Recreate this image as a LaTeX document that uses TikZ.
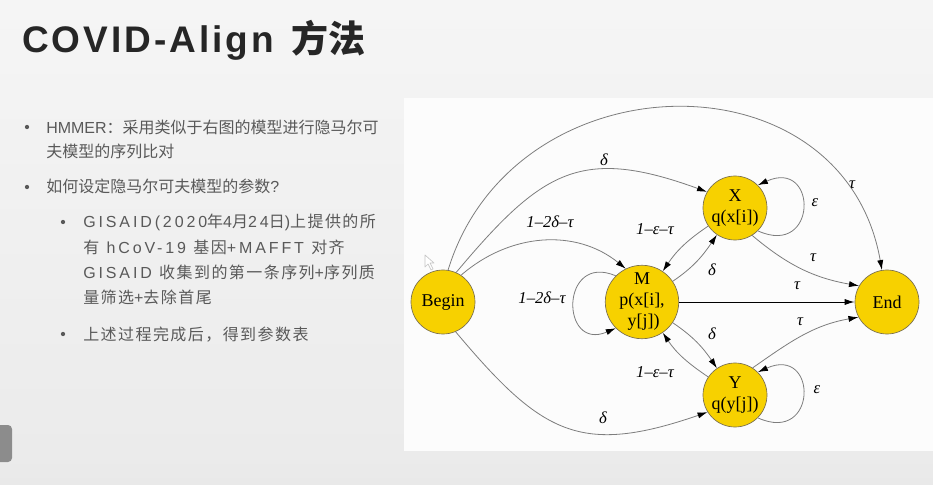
\documentclass[tikz,border=0pt]{standalone}
\usepackage{fontspec}
\setmainfont{Liberation Serif}
\newfontfamily\cjk{Noto Sans CJK SC}
\newfontfamily\cjkwide[LetterSpace=9]{Noto Sans CJK SC}
\newfontfamily\latplain{Liberation Sans}
\newfontfamily\latwide[LetterSpace=18]{Liberation Sans}
\newfontfamily\titlefont[LetterSpace=8]{Liberation Sans}
\newcommand{\lat}[1]{{\latplain #1}}
\newcommand{\latw}[1]{{\latwide #1}}
\usetikzlibrary{arrows.meta}

\definecolor{statefill}{RGB}{247,209,0}
\definecolor{stateline}{RGB}{120,110,80}
\definecolor{edgegray}{RGB}{125,125,125}
\definecolor{bodytext}{RGB}{89,89,89}
\definecolor{titletext}{RGB}{38,38,38}
\definecolor{bgT}{RGB}{255,255,255}
\definecolor{bgA}{RGB}{251,251,251}
\definecolor{bgB}{RGB}{246,246,246}
\definecolor{bgC}{RGB}{235,235,235}
\definecolor{bgD}{RGB}{221,221,221}
\definecolor{bgE}{RGB}{218,218,218}

% slide background, bottom (0bp) to top (100bp)
\pgfdeclareverticalshading{slidebg}{100bp}{%
  color(0bp)=(bgE); color(7bp)=(bgD); color(28bp)=(bgC);
  color(79bp)=(bgB); color(86bp)=(bgA); color(100bp)=(bgT)}

\tikzset{
  state/.style={circle, fill=statefill, draw=stateline, line width=0.5pt,
    minimum size=48pt, inner sep=0pt, align=center,
    font=\fontsize{13.5}{15.75}\selectfont},
  trans/.style={draw=edgegray, line width=0.6pt,
    -{Latex[length=7.5pt,width=4.6pt,color=black]}},
  lbl/.style={inner sep=0pt, font=\fontsize{12.5}{14}\selectfont\itshape},
  lineA/.style={anchor=base west, inner sep=0pt, text=bodytext,
    font=\cjk\fontsize{12}{14}\selectfont},
  lineB/.style={anchor=base west, inner sep=0pt, text=bodytext,
    font=\cjkwide\fontsize{12}{14}\selectfont},
  dot/.style={circle, fill=bodytext, inner sep=0pt, minimum size=3.2pt}
}

\begin{document}
\begin{tikzpicture}[x=0.75pt,y=0.75pt]
\useasboundingbox (0,0) rectangle (933,-485);

% background and panels
\shade[shading=slidebg] (0,0) rectangle (933,-485);
\fill[white!99!black] (404,-98) rectangle (933,-451);
\fill[gray!90, rounded corners=3pt] (-6,-425) rectangle (12,-462);
\draw[gray!45, line width=0.5pt, line join=round, fill=white]
  (425,-255) -- (425,-267) -- (428,-264) -- (431,-270) -- (433,-269)
  -- (430,-263) -- (434,-263) -- cycle;

% title
\node[anchor=base west, inner sep=0pt, text=titletext] (title) at (22,-53)
  {\titlefont\bfseries\fontsize{27.75}{30}\selectfont COVID-Align\hspace{13pt}{\cjk\bfseries 方法}};

% bullet list
\node[dot] (b1) at (27,-127) {};
\node[lineA] (t1a) at (46,-133) {\lat{HMMER}：采用类似于右图的模型进行隐马尔可};
\node[lineA] (t1b) at (46,-158) {夫模型的序列比对};
\node[dot] (b2) at (27,-187) {};
\node[lineA] (t2) at (46,-193) {如何设定隐马尔可夫模型的参数\lat{?}};
\node[dot] (b3) at (63,-222) {};
\node[lineB] (t3a) at (83,-228) {\latw{GISAID(2020}年\latw{4}月\latw{24}日\latw{)}上提供的所};
\node[lineB] (t3b) at (83,-253) {有\latw{ hCoV-19 }基因\latw{+MAFFT }对齐};
\node[lineB] (t3c) at (83,-278) {\latw{GISAID }收集到的第一条序列\latw{+}序列质};
\node[lineB] (t3d) at (83,-303) {量筛选\latw{+}去除首尾};
\node[dot] (b4) at (63,-334) {};
\node[lineB] (t4) at (83,-340) {上述过程完成后，得到参数表};

% pair HMM states
\node[state] (Begin) at (443,-302) {Begin};
\node[state] (M) at (642,-302) {M\\p(x[i],\\\,y[j])};
\node[state] (X) at (735,-208) {X\\q(x[i])};
\node[state] (Y) at (735,-395) {Y\\q(y[j])};
\node[state] (End) at (887,-302) {End};

% transitions
\draw[trans] (Begin.81) to[out=73,in=100,looseness=1.32] (End.99);
\draw[trans] (Begin.66) to[out=50,in=160,looseness=1.3] (X.150);
\draw[trans] (Begin.56) to[out=41,in=141] (M.116);
\draw[trans] (Begin.-67) to[out=-50,in=199,looseness=1.3] (Y.212);
\draw[trans] (M.135) .. controls (560,-252) and (560,-352) .. (M.225);
\draw[trans] (X.214) to[out=214,in=56] (M.56);
\draw[trans] (M.34) to[out=34,in=236] (X.236);
\draw[trans] (M.-34) to[out=-34,in=124] (Y.124);
\draw[trans] (Y.146) to[out=146,in=-56] (M.-56);
\draw[trans] (X.-45) .. controls (818,-258) and (818,-158) .. (X.45);
\draw[trans] (Y.-45) .. controls (818,-445) and (818,-345) .. (Y.45);
\draw[trans] (X.-58) to[out=-40,in=170] (End.150);
\draw[trans] (Y.57) to[out=35,in=190] (End.208);
\draw[trans, draw=black, line width=0.75pt] (M) -- (End);

% transition probabilities
\node[lbl] (lBE) at (852,-185) {τ};
\node[lbl] (lBX) at (604,-160) {δ};
\node[lbl] (lBM) at (550,-222) {1–2δ–τ};
\node[lbl] (lMM) at (542,-298) {1–2δ–τ};
\node[lbl] (lXM) at (655,-229) {1–ε–τ};
\node[lbl] (lMX) at (712,-270) {δ};
\node[lbl] (lXX) at (815,-203) {ε};
\node[lbl] (lXE) at (813,-258) {τ};
\node[lbl] (lME) at (797,-286) {τ};
\node[lbl] (lYE) at (800,-322) {τ};
\node[lbl] (lMY) at (712,-334) {δ};
\node[lbl] (lYM) at (655,-372) {1–ε–τ};
\node[lbl] (lYY) at (817,-390) {ε};
\node[lbl] (lBY) at (603,-418) {δ};
\end{tikzpicture}
\end{document}
